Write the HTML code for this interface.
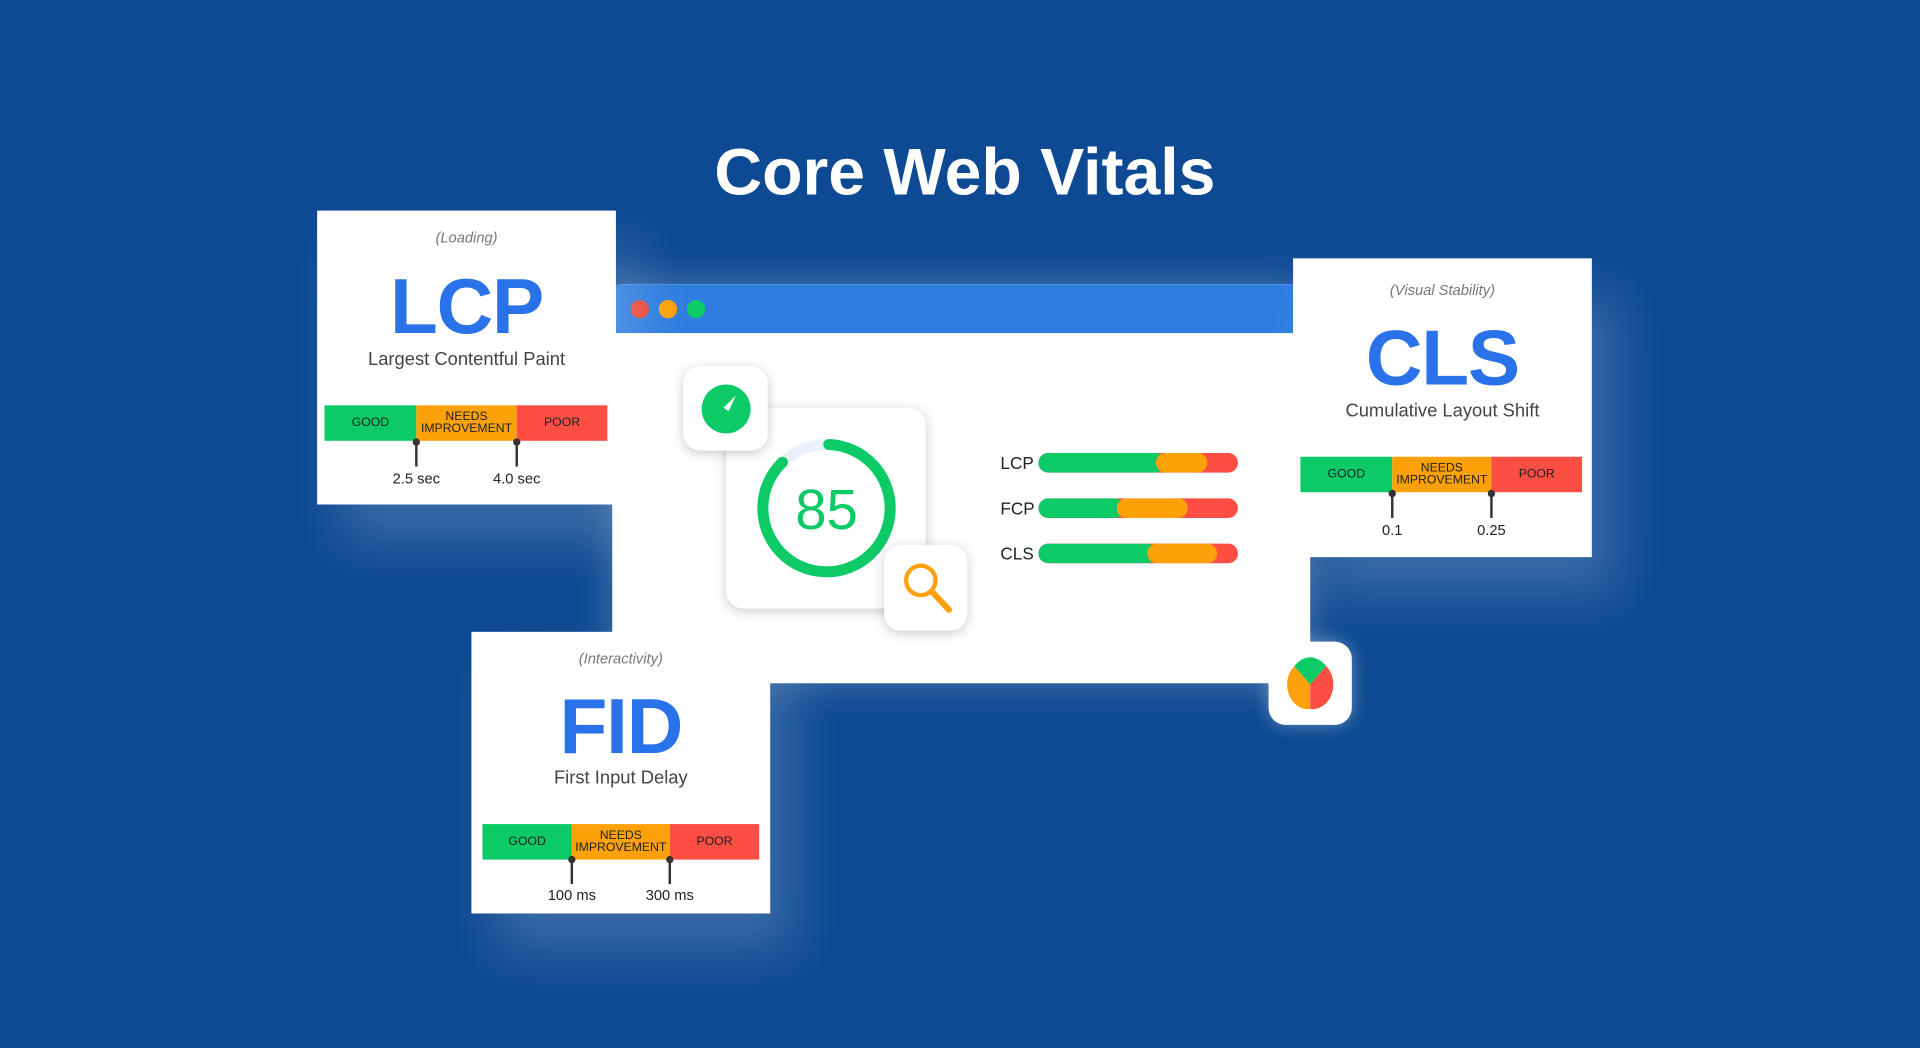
<!DOCTYPE html>
<html><head><meta charset="utf-8"><style>
html,body{margin:0;padding:0;width:1920px;height:1048px;overflow:hidden;background:#0e4a93;}
#w{position:absolute;left:0;top:0;width:1568px;height:856px;transform:scale(1.22449);transform-origin:0 0;font-family:"Liberation Sans",sans-serif;}
.a{position:absolute;}
.card{position:absolute;background:#fff;box-shadow:20px 30px 40px rgba(255,255,255,0.18);}
.t{position:absolute;left:0;right:0;text-align:center;}
.sm{font-style:italic;color:#777;font-size:12px;}
.big{color:#2a72ea;font-weight:bold;letter-spacing:-1px;}
.sub{color:#444;font-size:15px;}
.bar{position:absolute;height:29px;display:flex;font-size:10px;color:#222;}
.bar div{display:flex;align-items:center;justify-content:center;text-align:center;line-height:10px;}
.g{background:#0ccb67}.o{background:#fda10b}.r{background:#fd4e44}
.tick{position:absolute;width:2px;height:20px;background:#333;}
.tick:before{content:"";position:absolute;left:-2px;top:-3px;width:6px;height:6px;border-radius:50%;background:#333;}
.lbl{position:absolute;font-size:12px;color:#222;transform:translateX(-50%);}
.icon{position:absolute;background:#fff;border-radius:14px;box-shadow:0 2px 10px rgba(0,0,0,0.2);}
.pb{position:absolute;height:16px;border-radius:8px;overflow:hidden;background:#fd4e44;}
.pl{position:absolute;font-size:14px;color:#222;}
</style></head><body><div id="w">
<div class="t" style="top:110px;font-size:54px;font-weight:bold;color:#fff;left:0;width:1576px;">Core Web Vitals</div>

<div class="a" style="left:500px;top:232px;width:570px;height:326px;background:#fff;border-radius:8px;box-shadow:0 0 30px rgba(255,255,255,0.25);overflow:hidden;">
 <div class="a" style="left:0;top:0;width:570px;height:40px;background:#2f7de0;"></div>
 <div class="a" style="left:15px;top:13px;width:15px;height:15px;border-radius:50%;background:#e74c3c;"></div>
 <div class="a" style="left:38px;top:13px;width:15px;height:15px;border-radius:50%;background:#fda10b;"></div>
 <div class="a" style="left:61px;top:13px;width:15px;height:15px;border-radius:50%;background:#0ccb67;"></div>
</div>

<div class="icon" style="left:593px;top:333px;width:163px;height:164px;"></div>
<svg class="a" style="left:613px;top:353px" width="124" height="124"><circle cx="62" cy="62" r="52" fill="none" stroke="#e8f1fc" stroke-width="9"/><circle cx="62" cy="62" r="52" fill="none" stroke="#0ccb67" stroke-width="9" stroke-dasharray="285 400" transform="rotate(-88 62 62)" stroke-linecap="round"/><text x="62" y="79" text-anchor="middle" font-family="Liberation Sans" font-size="46" fill="#0ccb67">85</text></svg>
<div class="icon" style="left:558px;top:299px;width:69px;height:69px;"></div>
<svg class="a" style="left:558px;top:299px" width="69" height="69"><circle cx="35" cy="35" r="20" fill="#0ccb67"/><path d="M43 24 L33 34 L37 37 Z" fill="#fff"/></svg>
<div class="icon" style="left:722px;top:445px;width:68px;height:70px;"></div>
<svg class="a" style="left:722px;top:445px" width="68" height="70"><circle cx="30" cy="29" r="12" fill="none" stroke="#fda10b" stroke-width="3.5"/><line x1="39" y1="38" x2="53" y2="53" stroke="#fda10b" stroke-width="5" stroke-linecap="round"/></svg>
<div class="icon" style="left:1036px;top:524px;width:68px;height:68px;box-shadow:0 0 14px rgba(255,255,255,0.35);"></div>
<svg class="a" style="left:1036px;top:524px" width="68" height="68"><path d="M34 35 L34 55 A17 20 0 0 1 21 20 Z" fill="#fda10b"/><path d="M34 35 L21 20 A17 20 0 0 1 47 20 Z" fill="#0ccb67"/><path d="M34 35 L47 20 A17 20 0 0 1 34 55 Z" fill="#fd4e44"/></svg>

<div class="pl" style="left:817px;top:370px">LCP</div>
<div class="pb" style="left:848px;top:370px;width:163px;"><div class="a g" style="left:0;top:0;width:104px;height:16px;border-radius:8px"></div><div class="a o" style="left:96px;top:0;width:42px;height:16px;border-radius:8px"></div></div>
<div class="pl" style="left:817px;top:407px">FCP</div>
<div class="pb" style="left:848px;top:407px;width:163px;"><div class="a g" style="left:0;top:0;width:70px;height:16px;border-radius:8px"></div><div class="a o" style="left:64px;top:0;width:58px;height:16px;border-radius:8px"></div></div>
<div class="pl" style="left:817px;top:444px">CLS</div>
<div class="pb" style="left:848px;top:444px;width:163px;"><div class="a g" style="left:0;top:0;width:96px;height:16px;border-radius:8px"></div><div class="a o" style="left:89px;top:0;width:57px;height:16px;border-radius:8px"></div></div>

<div class="card" style="left:259px;top:172px;width:244px;height:240px;">
 <div class="t sm" style="top:15px">(Loading)</div>
 <div class="t big" style="top:40px;font-size:64px;line-height:76px">LCP</div>
 <div class="t sub" style="top:113px">Largest Contentful Paint</div>
 <div class="bar" style="left:6px;top:159px;width:231px"><div class="g" style="width:75px">GOOD</div><div class="o" style="width:82px">NEEDS<br>IMPROVEMENT</div><div class="r" style="width:74px">POOR</div></div>
 <div class="tick" style="left:80px;top:189px"></div><div class="tick" style="left:162px;top:189px"></div>
 <div class="lbl" style="left:81px;top:212px">2.5 sec</div><div class="lbl" style="left:163px;top:212px">4.0 sec</div>
</div>

<div class="card" style="left:1056px;top:211px;width:244px;height:244px;">
 <div class="t sm" style="top:19px">(Visual Stability)</div>
 <div class="t big" style="top:43px;font-size:64px;line-height:76px">CLS</div>
 <div class="t sub" style="top:116px">Cumulative Layout Shift</div>
 <div class="bar" style="left:6px;top:162px;width:230px"><div class="g" style="width:75px">GOOD</div><div class="o" style="width:81px">NEEDS<br>IMPROVEMENT</div><div class="r" style="width:74px">POOR</div></div>
 <div class="tick" style="left:80px;top:192px"></div><div class="tick" style="left:161px;top:192px"></div>
 <div class="lbl" style="left:81px;top:215px">0.1</div><div class="lbl" style="left:162px;top:215px">0.25</div>
</div>

<div class="card" style="left:385px;top:516px;width:244px;height:230px;">
 <div class="t sm" style="top:15px">(Interactivity)</div>
 <div class="t big" style="top:39px;font-size:64px;line-height:76px">FID</div>
 <div class="t sub" style="top:111px">First Input Delay</div>
 <div class="bar" style="left:9px;top:157px;width:226px"><div class="g" style="width:73px">GOOD</div><div class="o" style="width:80px">NEEDS<br>IMPROVEMENT</div><div class="r" style="width:73px">POOR</div></div>
 <div class="tick" style="left:81px;top:186px"></div><div class="tick" style="left:161px;top:186px"></div>
 <div class="lbl" style="left:82px;top:208px">100 ms</div><div class="lbl" style="left:162px;top:208px">300 ms</div>
</div>
</div></body></html>
